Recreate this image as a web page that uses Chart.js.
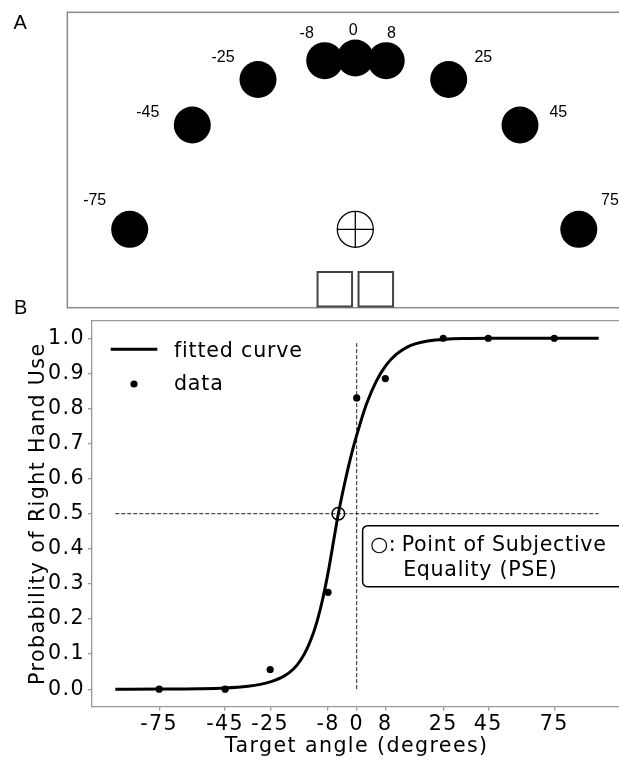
<!DOCTYPE html>
<html><head><meta charset="utf-8">
<script src="https://cdn.jsdelivr.net/npm/chart.js@4.4.1/dist/chart.umd.min.js"></script>
<style>
html,body{margin:0;padding:0;background:#fff;overflow:hidden;width:619px;height:760px;}
#cA{position:absolute;left:0;top:0;}
#cB{position:absolute;left:0;top:290px;}
</style></head><body>
<canvas id="cA" width="660" height="312"></canvas>
<canvas id="cB" width="660" height="470"></canvas>
<script>
// ---------- Panel A: target layout (diagram units, cm-like, origin at fixation) ----------
const targetAngles = [-75, -45, -25, -8, 0, 8, 25, 45, 75];
const targetX = [-22.56, -16.30, -9.73, -3.06, 0, 3.09, 9.34, 16.47, 22.35];
const targetY = [0, 10.43, 14.98, 16.86, 17.13, 16.86, 14.98, 10.43, 0];
const targetLabelX = [-26.06, -20.75, -13.23, -4.86, -0.21, 3.62, 12.80, 20.30, 25.47];
const targetLabelY = [3.01, 11.80, 17.31, 19.66, 20.05, 19.71, 17.35, 11.85, 3.03];
const fixationX = [0];
const fixationY = [0];
const handPadX = [-2.05, 2.05];
const handPadY = [-6.0, -6.0];

// ---------- Panel B: psychometric data ----------
const tickLabels = ['-75', '-45', '-25', '-8', '0', '8', '25', '45', '75'];
const tickPositions = [-1, -0.666, -0.438, -0.145, 0, 0.145, 0.438, 0.666, 1];
const probRight = [0, 0, 0.056, 0.276, 0.830, 0.885, 1, 1, 1];
const yTickValues = [0, 0.1, 0.2, 0.3, 0.4, 0.5, 0.6, 0.7, 0.8, 0.9, 1.0];
const curveX = [-1.222, -1.0, -0.8, -0.666, -0.55, -0.488, -0.438, -0.37, -0.32, -0.285, -0.25, -0.218, -0.2, -0.175, -0.142, -0.116, -0.093, -0.06, -0.025, 0.008, 0.05, 0.10, 0.15, 0.20, 0.253, 0.30, 0.36, 0.45, 0.55, 0.70, 1.0, 1.225];
const curveY = [0.0000, 0.0003, 0.0012, 0.0033, 0.0083, 0.0136, 0.0206, 0.0363, 0.0573, 0.0817, 0.1171, 0.1624, 0.1947, 0.2497, 0.3407, 0.4256, 0.5000, 0.5890, 0.6726, 0.7389, 0.8131, 0.8787, 0.9241, 0.9539, 0.9739, 0.9845, 0.9922, 0.9973, 0.9991, 0.9998, 1.0000, 1.0000];
const pseX = [-0.093];
const pseY = [0.5];
const refVertical = { x: 0, y0: 0, y1: 0.99 };
const refHorizontal = { y: 0.5, x0: -1.222, x1: 1.225 };
const pseNoteSymbol = '\u25CB:';
const pseNote = ['Point of Subjective', 'Equality (PSE)'];
const pseNoteAt = { x: 0.030, y: 0.466 };

const pts = (xs, ys) => xs.map((x, i) => ({ x: x, y: ys[i] }));

// ---------- Chart A ----------
const panelAPlugin = {
  id: 'panelA',
  beforeDatasetsDraw(chart) {
    const { ctx, chartArea: a } = chart;
    ctx.save();
    ctx.strokeStyle = '#8c8c8c';
    ctx.lineWidth = 1.5;
    ctx.strokeRect(a.left, a.top, a.right - a.left, a.bottom - a.top);
    ctx.restore();
  },
  afterDraw(chart) {
    const { ctx } = chart;
    const xs = chart.scales.x, ys = chart.scales.y;
    ctx.save();
    ctx.fillStyle = '#000';
    ctx.font = '16px "Liberation Sans", Arial, sans-serif';
    ctx.textAlign = 'center';
    ctx.textBaseline = 'alphabetic';
    targetAngles.forEach((ang, i) => {
      const px = xs.getPixelForValue(targetLabelX[i]);
      const py = ys.getPixelForValue(targetLabelY[i]);
      ctx.fillText(String(ang), px, py + 5.7);
    });
    ctx.font = '20px "Liberation Sans", Arial, sans-serif';
    ctx.textAlign = 'left';
    ctx.fillText('A', 13.6, 29.3);
    ctx.restore();
  }
};

new Chart(document.getElementById('cA'), {
  type: 'scatter',
  data: {
    datasets: [
      { label: 'targets', data: pts(targetX, targetY), pointRadius: 18.5, pointBackgroundColor: '#000', pointBorderWidth: 0 },
      { label: 'fixation cross', data: pts(fixationX, fixationY), pointStyle: 'cross', pointRadius: 18, pointBorderColor: '#000', pointBorderWidth: 1.3 },
      { label: 'fixation', data: pts(fixationX, fixationY), pointStyle: 'circle', pointRadius: 18, pointBackgroundColor: '#fff', pointBorderColor: '#000', pointBorderWidth: 1.3 },
      { label: 'hand pads', data: pts(handPadX, handPadY), pointStyle: 'rect', pointRadius: 24.4, pointBackgroundColor: '#fff', pointBorderColor: '#444', pointBorderWidth: 2 }
    ]
  },
  options: {
    responsive: false,
    animation: false,
    events: [],
    layout: { autoPadding: false, padding: { left: 67.3, top: 12.3, right: 16.7, bottom: 4.3 } },
    plugins: { legend: { display: false }, tooltip: { enabled: false } },
    scales: {
      x: { type: 'linear', min: -28.8, max: 28.8, display: false },
      y: { type: 'linear', min: -7.84, max: 21.7, display: false }
    }
  },
  plugins: [panelAPlugin]
});

// ---------- Chart B ----------
const FONT = '"DejaVu Sans", sans-serif';
const FS = 20.6;
const SPACING = '1.4px';
const setSpacing = (chart) => { try { chart.ctx.letterSpacing = SPACING; } catch (e) {} };
const panelBPlugin = {
  id: 'panelB',
  beforeUpdate: setSpacing,
  beforeLayout: setSpacing,
  beforeDraw: setSpacing,
  afterDraw(chart) {
    const { ctx, chartArea: a } = chart;
    const xs = chart.scales.x, ys = chart.scales.y;
    ctx.save();
    // top / right spines
    ctx.strokeStyle = '#999';
    ctx.lineWidth = 1.3;
    ctx.beginPath();
    ctx.moveTo(a.left, a.top); ctx.lineTo(a.right, a.top); ctx.lineTo(a.right, a.bottom);
    ctx.stroke();
    // legend
    const d0 = chart.data.datasets[2], d1 = chart.data.datasets[1];
    ctx.strokeStyle = d0.borderColor;
    ctx.lineWidth = d0.borderWidth;
    ctx.beginPath();
    ctx.moveTo(a.left + 18.7, a.top + 28.6); ctx.lineTo(a.left + 65.3, a.top + 28.6);
    ctx.stroke();
    ctx.fillStyle = d1.pointBackgroundColor;
    ctx.beginPath();
    ctx.arc(a.left + 42, a.top + 63.3, d1.pointRadius, 0, Math.PI * 2);
    ctx.fill();
    ctx.fillStyle = '#000';
    ctx.font = FS + 'px ' + FONT;
    ctx.textAlign = 'left';
    ctx.textBaseline = 'alphabetic';
    try { ctx.letterSpacing = '0.8px'; } catch (e) {}
    ctx.fillText(d0.label, a.left + 82, a.top + 36.6);
    ctx.fillText(d1.label, a.left + 82, a.top + 69.3);
    // PSE annotation box
    const bx = xs.getPixelForValue(pseNoteAt.x);
    const by = ys.getPixelForValue(pseNoteAt.y);
    const bw = 275, bh = 61, r = 5;
    ctx.beginPath();
    ctx.moveTo(bx + r, by);
    ctx.lineTo(bx + bw - r, by); ctx.arcTo(bx + bw, by, bx + bw, by + r, r);
    ctx.lineTo(bx + bw, by + bh - r); ctx.arcTo(bx + bw, by + bh, bx + bw - r, by + bh, r);
    ctx.lineTo(bx + r, by + bh); ctx.arcTo(bx, by + bh, bx, by + bh - r, r);
    ctx.lineTo(bx, by + r); ctx.arcTo(bx, by, bx + r, by, r);
    ctx.closePath();
    ctx.fillStyle = '#fff';
    ctx.fill();
    ctx.strokeStyle = '#000';
    ctx.lineWidth = 1.5;
    ctx.stroke();
    ctx.fillStyle = '#000';
    try { ctx.letterSpacing = '0.7px'; } catch (e) {}
    ctx.fillText(pseNoteSymbol, bx + 7.5, by + 25.7);
    ctx.fillText(pseNote[0], bx + 39, by + 25.7);
    ctx.fillText(pseNote[1], bx + 40.5, by + 50.3);
    // panel letter
    try { ctx.letterSpacing = '0px'; } catch (e) {}
    ctx.font = '20px "Liberation Sans", Arial, sans-serif';
    ctx.fillText('B', 14, 24);
    ctx.restore();
  }
};

new Chart(document.getElementById('cB'), {
  type: 'scatter',
  data: {
    datasets: [
      { label: 'PSE', data: pts(pseX, pseY), pointRadius: 6.3, pointBackgroundColor: 'rgba(0,0,0,0)', pointBorderColor: '#000', pointBorderWidth: 1.5 },
      { label: 'data', data: pts(tickPositions, probRight), pointRadius: 3.6, pointBackgroundColor: '#000', pointBorderWidth: 0 },
      { label: 'fitted curve', data: pts(curveX, curveY), showLine: true, borderColor: '#000', borderWidth: 3, pointRadius: 0, cubicInterpolationMode: 'monotone' },
      { label: 'x=0', data: [{ x: refVertical.x, y: refVertical.y0 }, { x: refVertical.x, y: refVertical.y1 }], showLine: true, borderColor: '#222', borderWidth: 1, borderDash: [4, 2], pointRadius: 0 },
      { label: 'p=0.5', data: [{ x: refHorizontal.x0, y: refHorizontal.y }, { x: refHorizontal.x1, y: refHorizontal.y }], showLine: true, borderColor: '#222', borderWidth: 1, borderDash: [4, 2], pointRadius: 0 }
    ]
  },
  options: {
    responsive: false,
    animation: false,
    events: [],
    layout: { autoPadding: false, padding: { left: 0, top: 30.7, right: 38.6, bottom: 0 } },
    plugins: { legend: { display: false }, tooltip: { enabled: false } },
    scales: {
      x: {
        type: 'linear', min: -1.34, max: 1.34,
        afterBuildTicks: (s) => { s.ticks = tickPositions.map(v => ({ value: v })); },
        afterFit: (s) => { s.height = 53.3; },
        ticks: { autoSkip: false, maxRotation: 0, padding: 2, color: '#000', font: { family: FONT, size: FS },
          callback: (v, i) => tickLabels[i] },
        grid: { drawOnChartArea: false, drawTicks: true, tickLength: 4, color: '#999', lineWidth: 1.3 },
        border: { color: '#999', width: 1.3 },
        title: { display: true, text: 'Target angle (degrees)', color: '#000', font: { family: FONT, size: FS }, padding: { top: 0, bottom: 1 } }
      },
      y: {
        type: 'linear', min: -0.05, max: 1.05,
        afterBuildTicks: (s) => { s.ticks = yTickValues.map(v => ({ value: v })); },
        afterFit: (s) => { s.width = 92; },
        ticks: { autoSkip: false, padding: 3, color: '#000', font: { family: FONT, size: FS },
          callback: (v) => Number(v).toFixed(1) },
        grid: { drawOnChartArea: false, drawTicks: true, tickLength: 4, color: '#999', lineWidth: 1.3 },
        border: { color: '#999', width: 1.3 },
        title: { display: true, text: 'Probability of Right Hand Use', color: '#000', font: { family: FONT, size: FS }, padding: { top: 26, bottom: 0 } }
      }
    }
  },
  plugins: [panelBPlugin]
});
</script>
</body></html>
